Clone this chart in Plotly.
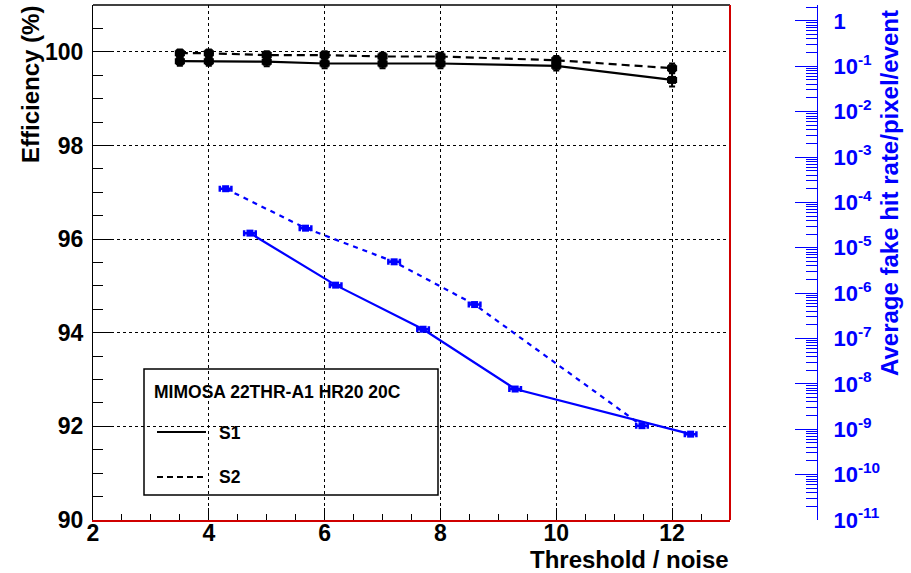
import plotly.graph_objects as go

# ---------------- data ----------------
thr_eff = [3.5, 4, 5, 6, 7, 8, 10, 12]
eff_s1 = [99.80, 99.80, 99.79, 99.75, 99.75, 99.75, 99.70, 99.40]
eff_s1_err = [0.10, 0.10, 0.10, 0.10, 0.10, 0.10, 0.10, 0.14]
eff_s2 = [99.97, 99.97, 99.93, 99.93, 99.90, 99.90, 99.82, 99.65]
eff_s2_err = [0.08, 0.08, 0.08, 0.08, 0.08, 0.08, 0.09, 0.10]

thr_fake_s1 = [4.71, 6.19, 7.70, 9.29, 12.32]
fake_s1 = [2.1e-5, 1.5e-6, 1.6e-7, 7.7e-9, 7.8e-10]
thr_fake_s2 = [4.29, 5.67, 7.20, 8.59, 11.48]
fake_s2 = [2.0e-4, 2.7e-5, 4.9e-6, 5.6e-7, 1.2e-9]
thr_fake_err = 0.1

y2_tick_exp = list(range(0, -12, -1))
y2_tickvals = [10.0 ** e for e in y2_tick_exp]
y2_ticktext = ["<b>1</b>"] + ["<b>10<sup>%d</sup></b>" % e for e in y2_tick_exp[1:]]
y2_minor = [k * 10.0 ** e for e in range(-11, 1) for k in range(2, 10) if k * 10.0 ** e < 2.3]

x_tickvals = [2, 4, 6, 8, 10, 12]
y_tickvals = [90, 92, 94, 96, 98, 100]

FONT = "Liberation Sans, Arial, sans-serif"
BLUE = "#0000ff"

# ---------------- geometry helpers (layout only) ----------------
W, H = 911, 573
L, R, T, B = 93, 94, 5, 53
PW = W - L - R
PH = H - T - B
def px(x):
    return (x - L) / PW
def py(y):
    return (H - B - y) / PH

fig = go.Figure()

# Efficiency (black)
fig.add_trace(go.Scatter(
    x=thr_eff, y=eff_s1, mode="lines+markers", name="S1",
    line=dict(color="black", width=2.2),
    marker=dict(symbol="square", size=8, color="black"),
    error_y=dict(type="data", array=eff_s1_err, color="black", thickness=2, width=3),
    error_x=dict(type="constant", value=0.07, color="black", thickness=2, width=3),
    showlegend=False))
fig.add_trace(go.Scatter(
    x=thr_eff, y=eff_s2, mode="lines+markers", name="S2",
    line=dict(color="black", width=2.2, dash="8px,5px"),
    marker=dict(symbol="square", size=8, color="black"),
    error_y=dict(type="data", array=eff_s2_err, color="black", thickness=2, width=3),
    error_x=dict(type="constant", value=0.07, color="black", thickness=2, width=3),
    showlegend=False))

# Fake hit rate (blue, right log axis)
fig.add_trace(go.Scatter(
    x=thr_fake_s1, y=fake_s1, yaxis="y2", mode="lines+markers", name="S1 fake",
    line=dict(color=BLUE, width=2.2),
    marker=dict(symbol="square", size=7, color=BLUE),
    error_x=dict(type="constant", value=thr_fake_err, color=BLUE, thickness=2.5, width=3),
    showlegend=False))
fig.add_trace(go.Scatter(
    x=thr_fake_s2, y=fake_s2, yaxis="y2", mode="lines+markers", name="S2 fake",
    line=dict(color=BLUE, width=2.2, dash="5px,5px"),
    marker=dict(symbol="square", size=7, color=BLUE),
    error_x=dict(type="constant", value=thr_fake_err, color=BLUE, thickness=2.5, width=3),
    showlegend=False))

xdom = px(730)

fig.update_layout(
    width=W, height=H,
    margin=dict(l=L, r=R, t=T, b=B),
    paper_bgcolor="white", plot_bgcolor="white",
    font=dict(family=FONT, color="black"),
    xaxis=dict(
        domain=[0, xdom], range=[2, 13],
        tickmode="array", tickvals=x_tickvals, ticktext=["<b>%d</b>" % v for v in x_tickvals],
        ticks="inside", ticklen=12, tickcolor="black", tickwidth=1,
        minor=dict(dtick=0.5, tick0=2, ticks="inside", ticklen=6, tickcolor="black", showgrid=False),
        showgrid=True, gridcolor="black", griddash="dot", gridwidth=1,
        showline=True, linecolor="#d00000", linewidth=2,
        zeroline=False,
        tickfont=dict(family=FONT, size=23, color="black"),
        ticklabelstandoff=-9,
    ),
    yaxis=dict(
        range=[90, 101],
        tickmode="array", tickvals=y_tickvals, ticktext=["<b>%d</b>" % v for v in y_tickvals],
        ticks="inside", ticklen=20, tickcolor="black", tickwidth=1,
        minor=dict(dtick=0.5, tick0=90, ticks="inside", ticklen=10, tickcolor="black", showgrid=False),
        showgrid=True, gridcolor="black", griddash="dot", gridwidth=1,
        showline=True, linecolor="black", linewidth=1,
        zeroline=False,
        tickfont=dict(family=FONT, size=23, color="black"),
        ticklabelstandoff=4,
    ),
    yaxis2=dict(
        type="log", range=[-11, 0.35],
        overlaying="y", side="right", anchor="free", position=1.0,
        tickmode="array", tickvals=y2_tickvals, ticktext=y2_ticktext,
        ticks="inside", ticklen=22, tickcolor=BLUE, tickwidth=1,
        minor=dict(tickmode="array", tickvals=y2_minor, ticks="inside", ticklen=11,
                   tickcolor=BLUE, showgrid=False),
        showgrid=False, zeroline=False,
        showline=True, linecolor=BLUE, linewidth=1,
        tickfont=dict(family=FONT, size=22, color=BLUE),
        ticklabelstandoff=11,
    ),
)

# frame: top (black) and right (red)
fig.add_shape(type="line", xref="x domain", yref="y domain", x0=0, x1=1, y0=1, y1=1,
              line=dict(color="black", width=1.5))
fig.add_shape(type="line", xref="x domain", yref="y domain", x0=1, x1=1, y0=0, y1=1,
              line=dict(color="#d00000", width=2))

# axis titles
fig.add_annotation(text="<b>Efficiency (%)</b>", xref="paper", yref="paper",
                   x=px(30), y=py(85), textangle=-90, showarrow=False,
                   xanchor="center", yanchor="middle",
                   font=dict(family=FONT, size=24, color="black"))
fig.add_annotation(text="<b>Threshold / noise</b>", xref="paper", yref="paper",
                   x=px(731), y=py(559), showarrow=False,
                   xanchor="right", yanchor="middle",
                   font=dict(family=FONT, size=24, color="black"))
fig.add_annotation(text="<b>Average fake hit rate/pixel/event</b>", xref="paper", yref="paper",
                   x=px(889), y=py(193), textangle=-90, showarrow=False,
                   xanchor="center", yanchor="middle",
                   font=dict(family=FONT, size=24, color=BLUE))

# legend box
fig.add_shape(type="rect", xref="paper", yref="paper",
              x0=px(144), x1=px(438), y0=py(495), y1=py(369),
              line=dict(color="black", width=1.5), fillcolor="rgba(0,0,0,0)")
fig.add_annotation(text="<b>MIMOSA 22THR-A1 HR20 20C</b>", xref="paper", yref="paper",
                   x=px(152), y=py(392), showarrow=False, xanchor="left", yanchor="middle",
                   font=dict(family=FONT, size=17.5, color="black"))
fig.add_shape(type="line", xref="paper", yref="paper",
              x0=px(157), x1=px(206), y0=py(432), y1=py(432),
              line=dict(color="black", width=2))
fig.add_shape(type="line", xref="paper", yref="paper",
              x0=px(157), x1=px(206), y0=py(477), y1=py(477),
              line=dict(color="black", width=2, dash="6px,4px"))
fig.add_annotation(text="<b>S1</b>", xref="paper", yref="paper",
                   x=px(217), y=py(433), showarrow=False, xanchor="left", yanchor="middle",
                   font=dict(family=FONT, size=17.5, color="black"))
fig.add_annotation(text="<b>S2</b>", xref="paper", yref="paper",
                   x=px(217), y=py(477), showarrow=False, xanchor="left", yanchor="middle",
                   font=dict(family=FONT, size=17.5, color="black"))

fig.write_html("out.html")
